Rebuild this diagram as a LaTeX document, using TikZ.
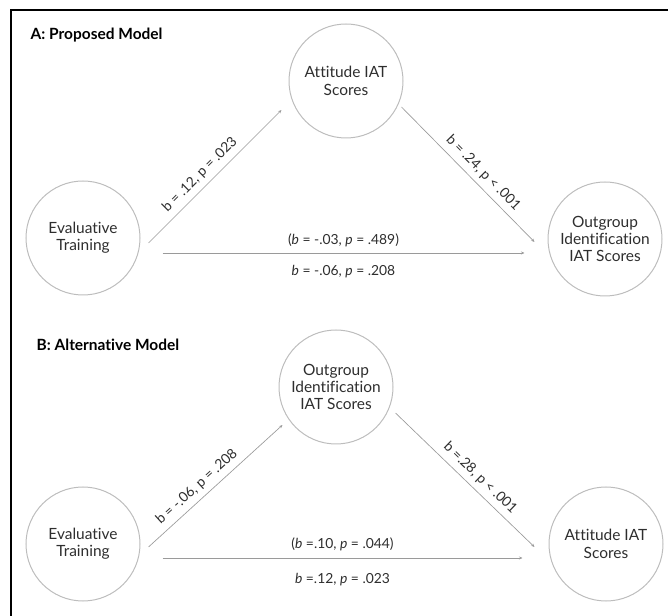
\documentclass[tikz,border=0pt]{standalone}
\usepackage{fontspec}
\setmainfont{Lato}[Ligatures=NoCommon]
\usetikzlibrary{arrows.meta,calc}
\definecolor{cerchio}{HTML}{BDBDBD}
\definecolor{testo}{HTML}{2E2E2E}
\definecolor{freccia}{HTML}{9A9A9A}
\begin{document}
\begin{tikzpicture}[x=0.75pt,y=-0.75pt,
    var/.style={circle,draw=cerchio,line width=0.75pt,minimum size=85.5pt,inner sep=0pt,
        align=center,text=testo,font=\fontsize{11.6}{13}\selectfont},
    percorso/.style={draw=freccia,line width=0.5pt,-{Stealth[length=2.6pt,width=2.2pt]}},
    coeff/.style={text=testo,font=\fontsize{10.4}{11}\selectfont,inner sep=1pt},
    titolo/.style={anchor=west,text=black,font=\fontsize{11.6}{13}\selectfont\bfseries}]
    \useasboundingbox (0,0) rectangle (668,616);
    %cornice
    \draw[line width=1.6pt](11,616)--(11,10)--(668,10);
    %modello A
    \node[titolo] (titA) at (26,35) {A: Proposed Model};
    \node[var] (trainA) at (83,238) {Evaluative\\Training};
    \node[var] (attA) at (346,81) {Attitude IAT\\Scores};
    \node[var] (ogA) at (605,239) {Outgroup\\Identification\\IAT Scores};
    \draw[percorso] ($(trainA.east)+(8,5)$)--($(attA.west)+(-7,29)$)
        node[coeff,pos=0.45,sloped,above=3pt]{b = .12, p = .023}; %percorso a
    \draw[percorso] ($(attA.east)+(-2,26)$)--($(ogA.west)+(-13,3)$)
        node[coeff,pos=0.55,sloped,above=3pt]{b = .24, p < .001}; %percorso b
    \draw[percorso] ($(trainA.east)+(22,15)$)--($(ogA.west)+(-23,14)$)
        node[coeff,midway,above=3pt]{(\textit{b} = -.03, \textit{p} = .489)}
        node[coeff,midway,below=8pt]{\textit{b} = -.06, \textit{p} = .208}; %effetto diretto
    %modello B
    \node[titolo] (titB) at (32,345) {B: Alternative Model};
    \node[var] (trainB) at (83,544) {Evaluative\\Training};
    \node[var] (ogB) at (336,387) {Outgroup\\Identification\\IAT Scores};
    \node[var] (attB) at (606,544) {Attitude IAT\\Scores};
    \draw[percorso] ($(trainB.east)+(8,3)$)--($(ogB.west)+(4,38)$)
        node[coeff,pos=0.42,sloped,above=3pt]{b = -.06, p = .208}; %percorso a
    \draw[percorso] ($(ogB.east)+(2,26)$)--($(attB.west)+(-14,3)$)
        node[coeff,pos=0.55,sloped,above=3pt]{b =.28, p < .001}; %percorso b
    \draw[percorso] ($(trainB.east)+(22,14)$)--($(attB.west)+(-26,14)$)
        node[coeff,midway,above=4pt]{(\textit{b} =.10, \textit{p} = .044)}
        node[coeff,midway,below=10pt]{\textit{b} =.12, \textit{p} = .023}; %effetto diretto
\end{tikzpicture}
\end{document}
